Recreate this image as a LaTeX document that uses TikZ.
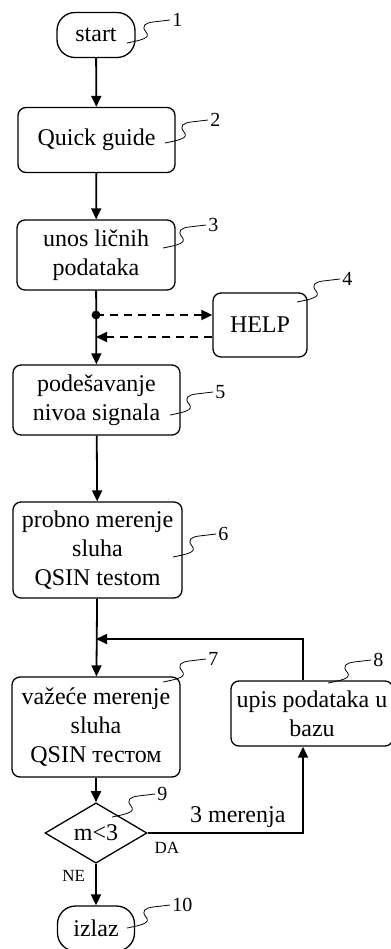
\documentclass[tikz,border=0pt]{standalone}
\usepackage{fontspec}
\setmainfont{Liberation Serif}
\usetikzlibrary{shapes.geometric,arrows.meta,positioning}

\tikzset{
  blok/.style={draw, rounded corners=4pt, line width=0.65pt, align=center, inner sep=2pt,
    font=\fontsize{12}{14.5}\selectfont},
  kraj/.style={blok, rounded corners=9pt},
  odluka/.style={draw, diamond, line width=0.65pt, inner sep=0pt,
    minimum width=51pt, minimum height=29pt, font=\fontsize{12}{14.5}\selectfont},
  tok/.style={-{Triangle[length=5.5pt,width=5pt]}, line width=0.9pt},
  isprek/.style={tok, dash pattern=on 4pt off 3pt},
  oznaka/.style={line width=0.4pt},
  malo/.style={font=\fontsize{8.5}{10}\selectfont, inner sep=1pt},
}

% callout with its number
\newcommand{\oznaka}[2]{%
  \draw[oznaka] #1 .. controls +(15,-3) and +(5,6) .. ++(19,-11)
    .. controls +(-5,-6) and +(-8,1) .. ++(7,-10) -- ++(17,-2)
    node[right, font=\fontsize{10}{12}\selectfont, inner sep=1pt] {#2};}

\begin{document}
\begin{tikzpicture}[x=0.5pt,y=-0.5pt]
    \useasboundingbox (0,0) rectangle (391,949);

    % blocks
    \node[kraj, minimum width=39pt, minimum height=22.5pt] (start) at (96,35) {start};
    \node[blok, minimum width=78.5pt, minimum height=32.5pt] (guide) at (96.5,140) {Quick guide};
    \node[blok, minimum width=79pt, minimum height=35pt] (unos) at (96,255) {unos ličnih\\podataka};
    \node[blok, minimum width=47pt, minimum height=32pt] (help) at (260,325) {HELP};
    \node[blok, minimum width=83.5pt, minimum height=35pt] (podes) at (96.5,400) {podešavanje\\nivoa signala};
    \node[blok, minimum width=84.5pt, minimum height=48pt] (probno) at (97.5,550) {probno merenje\\sluha\\QSIN testom};
    \node[blok, minimum width=84pt, minimum height=50pt] (vazece) at (96,727) {važeće merenje\\sluha\\QSIN тестом};
    \node[blok, minimum width=81pt, minimum height=32.5pt] (upis) at (312,713.5) {upis podataka u\\bazu};
    \node[odluka] (dia) at (96,833) {m<3};
    \node[kraj, minimum width=38.5pt, minimum height=22.5pt] (izlaz) at (96,928.5) {izlaz};

    \coordinate (dot) at (96,315);
    \coordinate (back) at (96,337);
    \coordinate (join) at (96,639);
    \coordinate (rail) at (303,639);

    % connectors
    \draw[tok] (start) -- (guide);
    \draw[tok] (guide) -- (unos);
    \draw[tok] (unos) -- (podes);
    \fill (dot) circle (2.2pt);
    \draw[isprek] (dot) -- (dot -| help.west);
    \draw[isprek] (back -| help.west) -- (back);
    \draw[tok] (podes) -- (probno);
    \draw[tok] (probno) -- (vazece);
    \draw[tok] (rail |- upis.north) |- (join);
    \draw[tok] (vazece) -- (dia);
    \draw[tok] (dia.east) node[malo, below right=3pt and 2pt] {DA}
        -| node[pos=0.29, above=-1pt, font=\fontsize{12}{14.5}\selectfont] {3 merenja} (rail |- upis.south);
    \draw[tok] (dia) -- node[malo, pos=0.3, left=4pt] {NE} (izlaz);

    % callouts
    \oznaka{(127,43)}{1}
    \oznaka{(165,143)}{2}
    \oznaka{(163,248)}{3}
    \oznaka{(297,302)}{4}
    \oznaka{(170,415)}{5}
    \oznaka{(173,557)}{6}
    \oznaka{(163,682)}{7}
    \oznaka{(328,683)}{8}
    \oznaka{(112,817)}{9}
    \oznaka{(127,928)}{10}
\end{tikzpicture}
\end{document}
